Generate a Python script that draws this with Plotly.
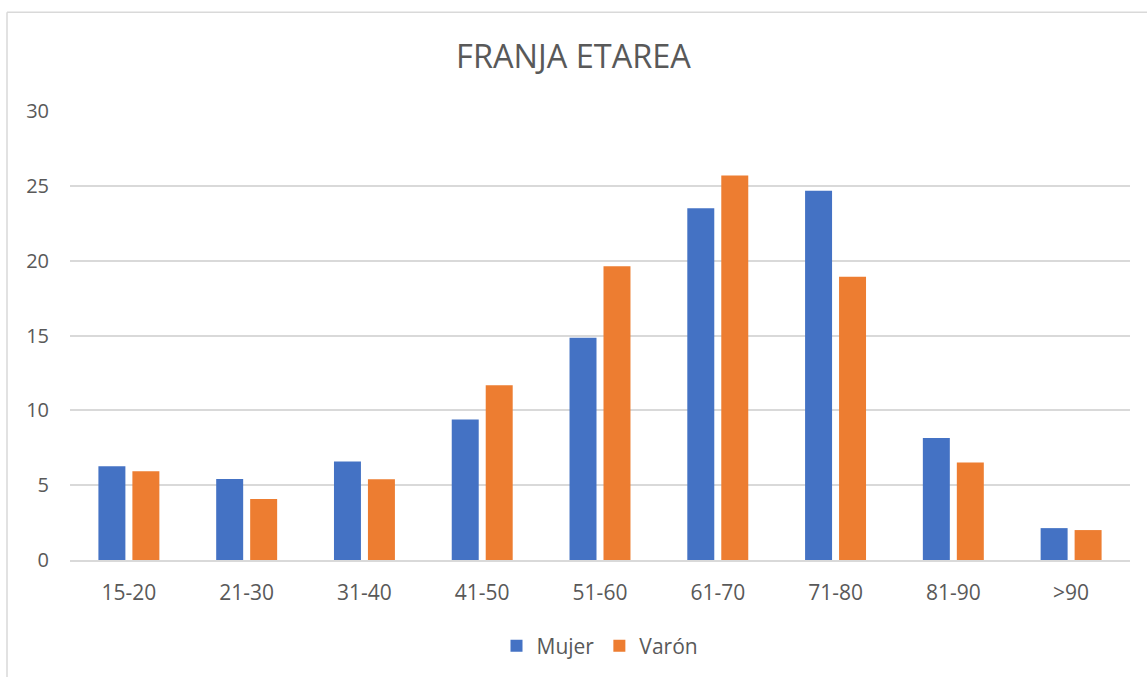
import plotly.graph_objects as go

categories = ["15-20", "21-30", "31-40", "41-50", "51-60", "61-70", "71-80", "81-90", ">90"]
mujer = [6.27, 5.42, 6.58, 9.38, 14.85, 23.51, 24.67, 8.15, 2.13]
varon = [5.93, 4.07, 5.40, 11.67, 19.62, 25.69, 18.93, 6.51, 2.00]
y_ticks = [0, 5, 10, 15, 20, 25, 30]

W, H = 1147, 677
ml, mr, mt, mb = 70, 17, 111, 116
pw = W - ml - mr
ph = H - mt - mb

def px_to_paper_x(px):
    return (px - ml) / pw

def px_to_paper_y(py):
    return (H - mb - py) / ph

FONT = "'Open Sans', sans-serif"
GRAY = "#595959"

fig = go.Figure()
fig.add_trace(go.Bar(name="Mujer", x=categories, y=mujer, marker=dict(color="#4472C4", line=dict(width=0))))
fig.add_trace(go.Bar(name="Varón", x=categories, y=varon, marker=dict(color="#ED7D31", line=dict(width=0))))

fig.update_layout(
    width=W, height=H,
    margin=dict(l=ml, r=mr, t=mt, b=mb),
    paper_bgcolor="white", plot_bgcolor="white",
    barmode="group", bargap=0.423, bargroupgap=0.206,
    font=dict(family=FONT, color=GRAY, size=20),
    title=dict(text="FRANJA ETAREA", x=0.5, xanchor="center", y=1 - 57 / H, yanchor="middle",
               font=dict(family=FONT, size=32.5, color=GRAY)),
    legend=dict(orientation="h", x=0.5, xanchor="center", y=px_to_paper_y(646), yanchor="middle",
                font=dict(family=FONT, size=21, color=GRAY), itemwidth=30, traceorder="normal"),
    xaxis=dict(showgrid=False, showline=True, linecolor="#d9d9d9", linewidth=1.5, ticks="",
               tickfont=dict(family=FONT, size=21, color=GRAY), ticklabelstandoff=13),
    yaxis=dict(range=[0, 30], tickvals=y_ticks, showgrid=True, gridcolor="#d9d9d9", gridwidth=1.5,
               zeroline=False, showline=False, ticks="",
               tickfont=dict(family=FONT, size=20, color=GRAY), ticklabelstandoff=20),
    shapes=[
        dict(type="line", xref="paper", yref="paper", x0=px_to_paper_x(7), x1=px_to_paper_x(W + 5),
             y0=px_to_paper_y(12), y1=px_to_paper_y(12), line=dict(color="#d9d9d9", width=1.5)),
        dict(type="line", xref="paper", yref="paper", x0=px_to_paper_x(7), x1=px_to_paper_x(7),
             y0=px_to_paper_y(12), y1=px_to_paper_y(H + 5), line=dict(color="#d9d9d9", width=1.5)),
    ],
)

fig.write_html("out.html", config={"displayModeBar": False},
               post_script="document.body.style.margin='0';")
